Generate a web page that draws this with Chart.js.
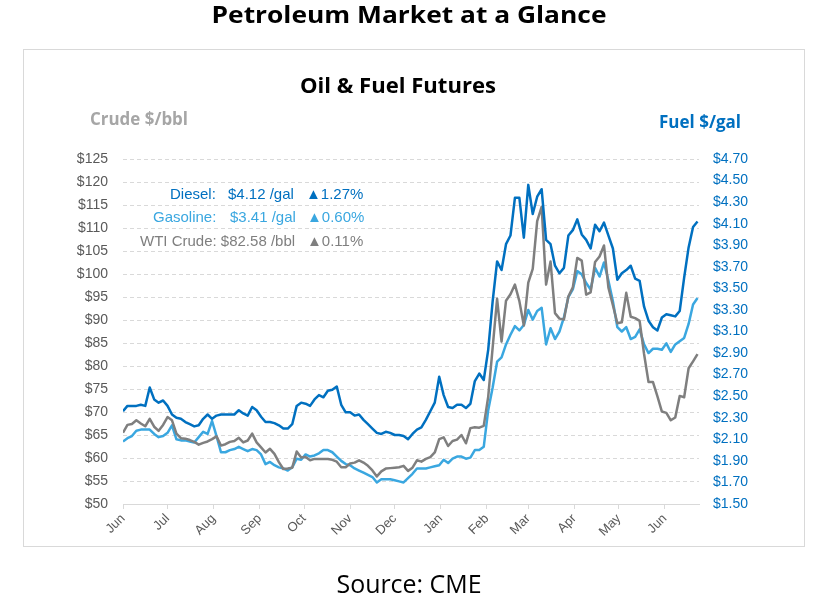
<!doctype html>
<html>
<head>
<meta charset="utf-8">
<script src="https://cdn.jsdelivr.net/npm/chart.js"></script>
<style>
  body { margin: 0; background: #ffffff; }
  #wrap { position: relative; width: 828px; height: 614px; }
</style>
<title>Petroleum Market at a Glance</title>
</head>
<body>
<div id="wrap"><canvas id="drawhere"></canvas></div>
<script>
// month starts, in days after the first day shown (Jun 1)
var monthdays = [0, 30, 61, 92, 122, 153, 183, 214, 245, 273, 304, 334, 365];
var monthnames = ['Jun','Jul','Aug','Sep','Oct','Nov','Dec','Jan','Feb','Mar','Apr','May','Jun'];
var fuelticks = [1.50,1.70,1.90,2.10,2.30,2.50,2.70,2.90,3.10,3.30,3.50,3.70,3.90,4.10,4.30,4.50,4.70];
var stepdays = 3;   // one reading every 3 calendar days

// Diesel futures, $/gal (right axis)
var diesel = [2.36,2.41,2.41,2.41,2.42,2.41,2.58,2.47,2.44,2.46,
  2.41,2.33,2.30,2.29,2.26,2.24,2.22,2.23,2.29,2.33,
  2.29,2.32,2.33,2.33,2.33,2.33,2.37,2.34,2.32,2.40,
  2.37,2.31,2.26,2.26,2.25,2.23,2.20,2.20,2.24,2.41,
  2.44,2.43,2.41,2.47,2.51,2.49,2.55,2.56,2.59,2.42,
  2.35,2.35,2.32,2.33,2.28,2.24,2.20,2.16,2.15,2.17,
  2.16,2.14,2.14,2.13,2.10,2.15,2.19,2.21,2.28,2.36,
  2.44,2.68,2.51,2.40,2.39,2.42,2.42,2.39,2.43,2.64,
  2.71,2.65,2.93,3.38,3.75,3.67,3.91,3.99,4.34,4.34,
  3.97,4.46,4.19,4.35,4.42,3.95,3.91,3.71,3.64,3.69,
  3.99,4.04,4.14,4.00,3.95,3.87,4.09,4.03,4.11,3.99,
  3.87,3.58,3.64,3.67,3.71,3.59,3.57,3.33,3.20,3.14,
  3.11,3.23,3.26,3.25,3.24,3.29,3.60,3.88,4.07,4.12];

// Gasoline futures, $/gal (right axis)
var gasoline = [2.08,2.11,2.13,2.18,2.19,2.19,2.19,2.15,2.12,2.13,
  2.16,2.23,2.10,2.09,2.09,2.08,2.07,2.12,2.17,2.15,
  2.27,2.13,1.98,1.98,2.00,2.01,2.03,2.01,1.99,2.01,
  2.00,1.96,1.87,1.89,1.86,1.84,1.83,1.81,1.84,1.92,
  1.91,1.96,1.94,1.95,1.97,2.00,2.00,1.98,1.94,1.90,
  1.87,1.86,1.83,1.81,1.79,1.77,1.75,1.70,1.73,1.73,
  1.73,1.72,1.71,1.70,1.74,1.78,1.83,1.83,1.83,1.84,
  1.85,1.86,1.91,1.88,1.92,1.94,1.94,1.92,1.93,2.00,
  2.00,2.03,2.37,2.58,2.82,2.86,2.98,3.07,3.15,3.11,
  3.16,3.30,3.21,3.29,3.32,2.98,3.13,3.03,3.10,3.23,
  3.42,3.49,3.66,3.63,3.55,3.49,3.69,3.61,3.74,3.57,
  3.38,3.14,3.10,3.14,3.03,3.05,3.12,2.98,2.90,2.94,
  2.94,2.93,2.99,2.91,2.98,3.01,3.04,3.17,3.35,3.41];

// WTI crude futures, $/bbl (left axis)
var wti = [65.5,67.2,67.4,68.2,67.5,66.9,68.5,66.8,65.9,67.2,
  68.9,68.2,65.3,64.3,64.2,63.9,63.5,62.9,63.3,63.6,
  64.1,64.7,62.7,63.0,63.5,63.7,64.4,63.4,63.8,65.3,
  63.4,62.3,61.2,62.0,60.9,59.1,57.6,57.7,57.9,61.4,
  60.1,60.2,59.5,59.8,59.8,59.8,59.8,59.6,59.2,58.0,
  58.0,58.8,59.0,59.5,59.0,58.3,57.3,56.0,57.1,57.7,
  57.8,57.9,58.0,58.3,57.2,57.9,59.5,59.2,59.8,60.2,
  61.2,64.1,64.5,62.6,63.7,64.0,65.0,63.2,66.5,66.7,
  66.6,67.0,73.3,84.0,94.6,85.3,94.2,95.6,97.7,94.1,
  88.8,98.1,101.1,111.5,114.6,97.7,102.7,91.5,90.3,90.1,
  95.1,97.1,103.5,102.9,95.5,96.0,102.6,103.8,106.2,97.0,
  93.2,89.3,89.5,95.9,90.7,90.4,89.8,82.6,76.5,76.5,
  73.4,70.1,69.8,68.2,68.8,73.5,73.2,79.5,81.0,82.58];

var legendrows = [
  { parts: ['Diesel:', '$4.12 /gal', '\u25B21.27%'], color: '#0070c0' },
  { parts: ['Gasoline:', '$3.41 /gal', '\u25B20.60%'], color: '#3aa7e0' },
  { parts: ['WTI Crude: $82.58 /bbl', '', '\u25B20.11%'], color: '#7f7f7f' }
];

function topoints(arr) {
  var out = [];
  for (var i = 0; i < arr.length; i++)
    out.push({ x: i * stepdays, y: arr[i] });
  return out;
}

// draw text stretched to a given width (the original uses a wider face)
function fittext(c, txt, x, y, w, align) {
  var m = c.measureText(txt).width;
  c.save();
  c.translate(x, y);
  c.scale(w / m, 1);
  c.textAlign = align;
  c.fillText(txt, 0, 0);
  c.restore();
}

var textplugin = {
  id: 'texts',
  beforeDraw: function (chart) {
    var c = chart.ctx;
    c.save();
    c.fillStyle = '#ffffff';
    c.fillRect(0, 0, chart.width, chart.height);
    c.strokeStyle = '#d9d9d9';
    c.lineWidth = 1;
    c.strokeRect(23.5, 49.5, 781, 497);
    c.restore();
  },
  afterDraw: function (chart) {
    var c = chart.ctx;
    c.save();
    c.textBaseline = 'alphabetic';
    c.fillStyle = '#000000';
    c.font = 'bold 23px "Open Sans"';
    fittext(c, 'Petroleum Market at a Glance', 409, 23, 395, 'center');
    c.font = 'bold 22px "Open Sans"';
    fittext(c, 'Oil & Fuel Futures', 398, 93, 196, 'center');
    c.font = '25px "Open Sans"';
    fittext(c, 'Source: CME', 409, 593, 145, 'center');

    c.font = 'bold 17px "Open Sans"';
    c.fillStyle = '#a6a6a6';
    fittext(c, 'Crude $/bbl', 90, 125, 98, 'left');
    c.fillStyle = '#0070c0';
    fittext(c, 'Fuel $/gal', 659, 128, 82, 'left');

    c.font = '15px "Liberation Sans"';
    c.textAlign = 'left';
    var ys = [199, 222, 246];
    var xs = [[170, 228, 306], [153, 230, 307], [140, 0, 307]];
    for (var r = 0; r < legendrows.length; r++) {
      c.fillStyle = legendrows[r].color;
      for (var p = 0; p < 3; p++) {
        if (legendrows[r].parts[p] !== '')
          c.fillText(legendrows[r].parts[p], xs[r][p], ys[r]);
      }
    }
    c.restore();
  }
};

var tickfont = { family: '"Liberation Sans", Arial', size: 14 };

new Chart(drawhere, {
  type: 'line',
  data: {
    datasets: [
      { label: 'Diesel', data: topoints(diesel), yAxisID: 'yR', borderColor: '#0070c0', borderWidth: 2.5 },
      { label: 'WTI Crude', data: topoints(wti), yAxisID: 'yL', borderColor: '#7f7f7f', borderWidth: 2.5 },
      { label: 'Gasoline', data: topoints(gasoline), yAxisID: 'yR', borderColor: '#3aa7e0', borderWidth: 2.5 }
    ]
  },
  options: {
    responsive: true,
    maintainAspectRatio: false,
    animation: false,
    devicePixelRatio: 1,
    elements: { point: { radius: 0 }, line: { tension: 0, borderJoinStyle: 'round', fill: false } },
    layout: { padding: { left: 63, right: 69, top: 159, bottom: 65 } },
    plugins: { legend: { display: false }, tooltip: { enabled: false } },
    scales: {
      x: {
        type: 'linear',
        min: 0,
        max: 388,
        afterBuildTicks: function (axis) {
          axis.ticks = monthdays.map(function (d) { return { value: d }; });
        },
        afterFit: function (axis) { axis.height = 45; },
        ticks: {
          autoSkip: false,
          maxRotation: 45,
          minRotation: 45,
          padding: 2,
          color: '#595959',
          font: { family: '"Liberation Sans", Arial', size: 13 },
          callback: function (value, index) { return monthnames[index]; }
        },
        grid: { drawOnChartArea: false, tickLength: 5, color: '#d9d9d9' },
        border: { display: true, color: '#d9d9d9', width: 1 }
      },
      yL: {
        type: 'linear',
        position: 'left',
        min: 50,
        max: 125,
        afterFit: function (axis) { axis.width = 60; },
        ticks: {
          stepSize: 5,
          padding: 15,
          color: '#595959',
          font: tickfont,
          callback: function (v) { return '$' + v; }
        },
        grid: { color: '#d9d9d9', lineWidth: 1, drawTicks: false },
        border: { display: false, dash: [4, 3] }
      },
      yR: {
        type: 'linear',
        position: 'right',
        min: 1.5,
        max: 4.7,
        afterBuildTicks: function (axis) {
          axis.ticks = fuelticks.map(function (v) { return { value: v }; });
        },
        afterFit: function (axis) { axis.width = 60; },
        ticks: {
          padding: 14,
          color: '#0070c0',
          font: tickfont,
          callback: function (v) { return '$' + v.toFixed(2); }
        },
        grid: { display: false, drawTicks: false },
        border: { display: false }
      }
    }
  },
  plugins: [textplugin]
});
</script>
</body>
</html>
